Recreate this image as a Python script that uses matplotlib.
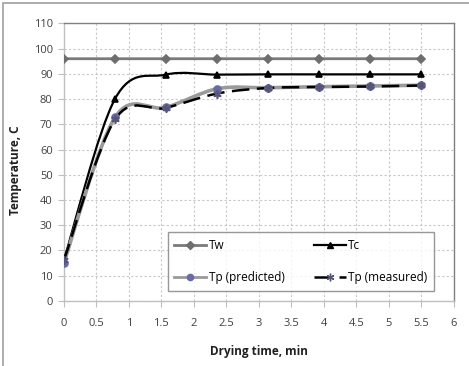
import numpy as np
import matplotlib
matplotlib.use("Agg")
from matplotlib import pyplot as plt
from matplotlib.path import Path
from matplotlib.patches import PathPatch, Rectangle
from matplotlib.lines import Line2D

plt.rcParams['font.family'] = ['Open Sans', 'DejaVu Sans']

# Data
time_min = [0, 0.79, 1.57, 2.36, 3.14, 3.93, 4.71, 5.5]
tw = [96, 96, 96, 96, 96, 96, 96, 96]
tc = [16, 80.2, 89.7, 89.7, 89.8, 89.8, 89.8, 89.8]
tp_pred = [15, 72.8, 76.7, 84.1, 84.5, 84.9, 85.2, 85.5]
tp_meas = [16, 72, 76.5, 82.2, 84.4, 84.8, 85.0, 85.4]


def smooth_path(x, y):
    """Excel-style smoothed line as cubic Bezier segments."""
    pts = np.column_stack([x, y]).astype(float)
    n = len(pts)
    verts = [pts[0]]
    codes = [Path.MOVETO]
    for i in range(n - 1):
        p0 = pts[i - 1] if i > 0 else pts[i]
        p1 = pts[i]
        p2 = pts[i + 1]
        p3 = pts[i + 2] if i + 2 < n else pts[i + 1]
        c1 = p1 + (p2 - p0) / 6.0
        c2 = p2 - (p3 - p1) / 6.0
        verts += [c1, c2, p2]
        codes += [Path.CURVE4] * 3
    return Path(verts, codes)


fig = plt.figure(figsize=(4.69, 3.66), dpi=100)
ax = fig.add_axes([0.136, 0.178, 0.832, 0.758])

series = [
    # data, line colour, lw, linestyle, marker, marker colour, ms, label
    (tw, '#7a7a7a', 2.0, '-', 'D', '#6e6e6e', 4.5, 'Tw'),
    (tc, 'black', 1.6, '-', '^', 'black', 5, 'Tc'),
    (tp_pred, '#9a9a9a', 2.6, '-', 'o', '#6a6aa8', 5, 'Tp (predicted)'),
    (tp_meas, 'black', 1.8, (0, (7, 3)), (6, 2, 0), '#555577', 6, 'Tp (measured)'),
]

handles = {}
for data, col, lw, ls, mk, mcol, ms, lab in series:
    patch = PathPatch(smooth_path(time_min, data), facecolor='none',
                      edgecolor=col, lw=lw, linestyle=ls, zorder=3)
    ax.add_patch(patch)
    ax.plot(time_min, data, linestyle='none', marker=mk, color=mcol,
            markersize=ms, markeredgewidth=1.2, zorder=4)
    handles[lab] = Line2D([], [], color=col, lw=min(lw, 2.0), linestyle=ls,
                          marker=mk, markerfacecolor=mcol,
                          markeredgecolor=mcol, markersize=ms - 0.5,
                          label=lab)

ax.set_xlim(0, 6)
ax.set_ylim(0, 110)
ax.set_xticks(np.arange(0, 6.01, 0.5))
ax.set_xticklabels(['0', '0.5', '1', '1.5', '2', '2.5', '3', '3.5', '4',
                    '4.5', '5', '5.5', '6'])
ax.set_yticks(np.arange(0, 111, 10))
ax.grid(True, color='#c8c8c8', linestyle=(0, (2, 2)), lw=0.8)
ax.set_axisbelow(True)

for side in ['left', 'bottom']:
    ax.spines[side].set_color('#c0c0c0')
for side in ['top', 'right']:
    ax.spines[side].set_color('#808080')
for sp in ax.spines.values():
    sp.set_linewidth(1.0)

ax.tick_params(axis='both', colors='#bfbfbf', labelcolor='#404040',
               labelsize=8, length=4, direction='out', pad=8)
ax.tick_params(axis='y', pad=4)

ax.set_xlabel('Drying time, min', fontsize=8.5, fontweight='bold',
              color='#202020', labelpad=12)
ax.set_ylabel('Temperature, C', fontsize=8.5, fontweight='bold',
              color='#202020')
ax.yaxis.set_label_coords(-0.108, 0.47)

order = ['Tw', 'Tp (predicted)', 'Tc', 'Tp (measured)']
leg = ax.legend(handles=[handles[k] for k in order], loc='lower left',
                bbox_to_anchor=(0.267, 0.036, 0.682, 0.238), mode='expand',
                ncol=2, fontsize=8.5, frameon=True, fancybox=False,
                handlelength=2.7, handletextpad=0.2, borderpad=0.55,
                labelspacing=1.65, columnspacing=1.0, borderaxespad=0)
leg.get_frame().set_edgecolor('#7f7f7f')
leg.get_frame().set_linewidth(1.0)

# figure outline
fig.patches.append(Rectangle((3 / 469, -0.05), 1.1, 1 - 3 / 366 + 0.05,
                             transform=fig.transFigure, fill=False,
                             edgecolor='#a0a0a0', lw=1.2))

fig.savefig('out.png', dpi=100)
